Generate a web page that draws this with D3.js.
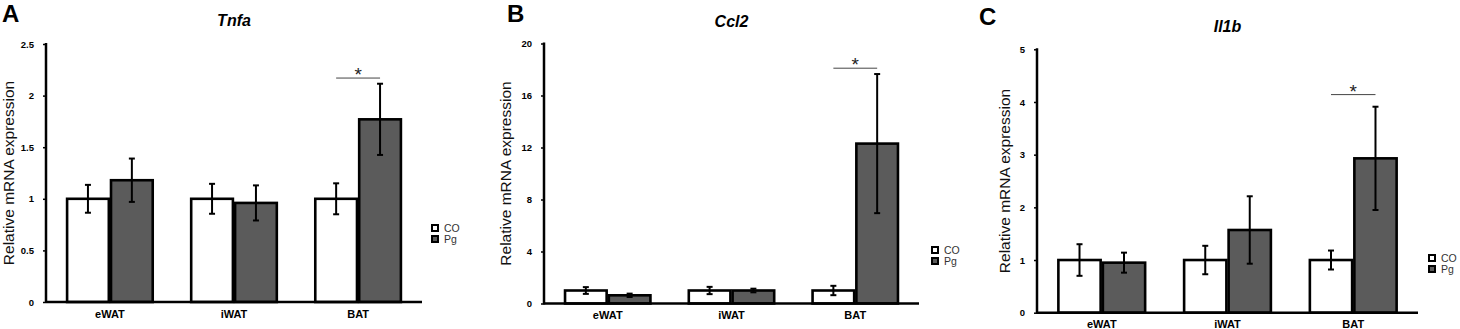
<!DOCTYPE html>
<html><head><meta charset="utf-8">
<script src="https://cdn.jsdelivr.net/npm/d3@7"></script>
<style>
body{margin:0;background:#fff;}
svg{display:block;font-family:"Liberation Sans",Arial,sans-serif;}
</style></head>
<body>
<svg id="fig" width="1460" height="329"></svg>
<script>
// data
var tissues=['eWAT','iWAT','BAT'],
    groups=['CO','Pg'];
var tnfaCO=[1,1,1],         tnfaCOErr=[0.135,0.145,0.15],
    tnfaPg=[1.18,0.96,1.77], tnfaPgErr=[0.21,0.17,0.345],
    tnfaTicks=[0,0.5,1,1.5,2,2.5], tnfaSig=2.17;
var ccl2CO=[1,1,1],          ccl2COErr=[0.26,0.28,0.36],
    ccl2Pg=[0.63,1.0,12.3],  ccl2PgErr=[0.13,0.14,5.35],
    ccl2Ticks=[0,4,8,12,16,20], ccl2Sig=18.1;
var il1bCO=[1,1,1],          il1bCOErr=[0.3,0.27,0.18],
    il1bPg=[0.95,1.57,2.93], il1bPgErr=[0.19,0.64,0.98],
    il1bTicks=[0,1,2,3,4,5], il1bSig=4.14;

var svg=d3.select('#fig');
var grey='#5b5b5b';

function panel(o){
  var g=svg.append('g');
  var x=d3.scaleBand().domain(tissues).range([o.x0,o.x1]).paddingInner(0.31).paddingOuter(0.17);
  var xs=d3.scaleBand().domain(groups).range([0,x.bandwidth()]).paddingInner(0.05);
  var y=d3.scaleLinear().domain([0,d3.max(o.ticks)]).range([o.y0,o.yTop]);
  var rows=tissues.map(function(t,i){
    return [{t:t,g:'CO',v:o.co[i],e:o.coErr[i]},{t:t,g:'Pg',v:o.pg[i],e:o.pgErr[i]}];});
  var flat=[].concat.apply([],rows);

  g.selectAll('rect.bar').data(flat).enter().append('rect').attr('class','bar')
   .attr('x',function(d){return x(d.t)+xs(d.g);})
   .attr('width',xs.bandwidth())
   .attr('y',function(d){return y(d.v);})
   .attr('height',function(d){return y(0)-y(d.v);})
   .attr('fill',function(d){return d.g=='CO'?'#fff':grey;})
   .attr('stroke','#000').attr('stroke-width',2.6);

  // error bars
  var eb=g.selectAll('g.err').data(flat).enter().append('g')
   .attr('transform',function(d){return 'translate('+(x(d.t)+xs(d.g)+xs.bandwidth()/2)+',0)';});
  eb.append('line').attr('y1',function(d){return y(d.v+d.e);}).attr('y2',function(d){return y(d.v-d.e);})
    .attr('stroke','#000').attr('stroke-width',2);
  eb.append('line').attr('x1',-3).attr('x2',3).attr('y1',function(d){return y(d.v+d.e);}).attr('y2',function(d){return y(d.v+d.e);})
    .attr('stroke','#000').attr('stroke-width',2);
  eb.append('line').attr('x1',-3).attr('x2',3).attr('y1',function(d){return y(d.v-d.e);}).attr('y2',function(d){return y(d.v-d.e);})
    .attr('stroke','#000').attr('stroke-width',2);

  // axes
  var ya=g.append('g').attr('transform','translate('+o.x0+',0)')
    .call(d3.axisLeft(y).tickValues(o.ticks).tickSize(3).tickPadding(9).tickFormat(d3.format('')));
  ya.select('.domain').remove();
  ya.selectAll('line').attr('stroke','#000').attr('stroke-width',1.5);
  ya.selectAll('text').attr('font-size',9.5).attr('font-weight','bold').attr('fill','#000');
  g.append('line').attr('x1',o.x0).attr('x2',o.x0).attr('y1',o.yTop-1).attr('y2',o.y0+1)
   .attr('stroke','#000').attr('stroke-width',2.5);
  g.append('line').attr('x1',o.x0).attr('x2',o.x1).attr('y1',o.y0).attr('y2',o.y0)
   .attr('stroke','#000').attr('stroke-width',2.5);
  var xa=g.append('g').attr('transform','translate(0,'+o.y0+')')
    .call(d3.axisBottom(x).tickSize(0).tickPadding(o.xPad));
  xa.select('.domain').remove();
  xa.selectAll('text').attr('font-size',11).attr('font-weight','bold').attr('fill','#000');

  // significance
  var last=tissues[2];
  g.append('line').attr('x1',x(last)+xs('CO')+xs.bandwidth()/2).attr('x2',x(last)+xs('Pg')+xs.bandwidth()/2)
   .attr('y1',y(o.sig)).attr('y2',y(o.sig)).attr('stroke','#444').attr('stroke-width',1);
  g.append('text').attr('x',x(last)+x.bandwidth()/2).attr('y',y(o.sig)+3)
   .attr('text-anchor','middle').attr('font-size',19).attr('fill','#222').text('*');

  // titles
  g.append('text').attr('x',o.lx).attr('y',o.ly).attr('font-size',24).attr('font-weight','bold').text(o.letter);
  g.append('text').attr('x',(o.x0+o.x1)/2).attr('y',o.ty).attr('text-anchor','middle')
   .attr('font-size',16).attr('font-weight','bold').attr('font-style','italic').text(o.title);
  g.append('text').attr('transform','translate('+o.yl+','+(o.yTop+o.y0)/2+') rotate(-90)')
   .attr('text-anchor','middle').attr('font-size',15.5).attr('fill','#111').text('Relative mRNA expression');

  // legend
  var lg=g.append('g').attr('transform','translate('+o.legX+','+o.legY+')');
  groups.forEach(function(k,i){
    lg.append('rect').attr('x',0).attr('y',i*11-3).attr('width',6).attr('height',6)
      .attr('fill',k=='CO'?'#fff':grey).attr('stroke','#000').attr('stroke-width',2);
    lg.append('text').attr('x',12).attr('y',i*11+4).attr('font-size',10.5).attr('fill','#333').text(k);
  });
}

panel({letter:'A',title:'Tnfa',x0:46,x1:422,yTop:44,y0:302,ticks:tnfaTicks,
  co:tnfaCO,coErr:tnfaCOErr,pg:tnfaPg,pgErr:tnfaPgErr,sig:tnfaSig,
  lx:2,ly:22,ty:26,yl:14,legX:432,legY:228,xPad:8});
panel({letter:'B',title:'Ccl2',x0:544,x1:919,yTop:43.5,y0:303.5,ticks:ccl2Ticks,
  co:ccl2CO,coErr:ccl2COErr,pg:ccl2Pg,pgErr:ccl2PgErr,sig:ccl2Sig,
  lx:507,ly:22,ty:27,yl:511,legX:932,legY:250,xPad:8});
panel({letter:'C',title:'Il1b',x0:1037,x1:1418,yTop:49.3,y0:312.7,ticks:il1bTicks,
  co:il1bCO,coErr:il1bCOErr,pg:il1bPg,pgErr:il1bPgErr,sig:il1bSig,
  lx:979,ly:25,ty:32,yl:1010,legX:1429,legY:258,xPad:7.3});
</script>
</body></html>
